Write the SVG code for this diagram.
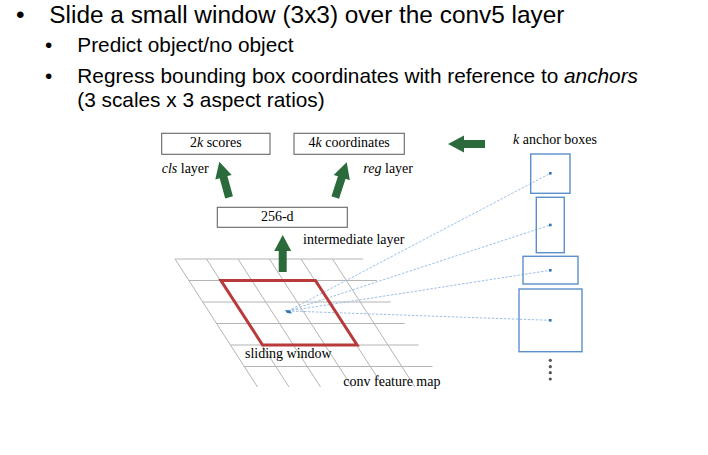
<svg xmlns="http://www.w3.org/2000/svg" xmlns:xlink="http://www.w3.org/1999/xlink" width="708" height="455" viewBox="0 0 708 455">
<style>
.h1{font-family:"Liberation Sans",Arial,sans-serif;font-size:24.4px;fill:#000}
.h2{font-family:"Liberation Sans",Arial,sans-serif;font-size:20.8px;fill:#000}
.t{font-family:"Liberation Serif","Times New Roman",serif;font-size:14px;fill:#000}
.box{fill:#fff;stroke:#666;stroke-width:1.1}
.grid{stroke:#b4b4b4;stroke-width:1;fill:none}
.anc{fill:none;stroke:#5b8fc9;stroke-width:1.4}
.dash{stroke:#9dc0e6;stroke-width:1;stroke-dasharray:2.5 1.5;fill:none}
.gar{fill:#2b6a3a}
.dot{fill:#2e75b6}
</style>
<defs>
<path id="arr" d="M0,0 L8.5,16 L4,16 L4,37 L-4,37 L-4,16 L-8.5,16 Z"/>
</defs>

<g id="bullets">
<text class="h1" x="16" y="22.7">•</text>
<text class="h1" x="49.3" y="22.7">Slide a small window (3x3) over the conv5 layer</text>
<text class="h2" x="45" y="52.3">•</text>
<text class="h2" x="77.3" y="52.3">Predict object/no object</text>
<text class="h2" x="45" y="82.7">•</text>
<text class="h2" x="77.3" y="82.7">Regress bounding box coordinates with reference to <tspan font-style="italic">anchors</tspan></text>
<text class="h2" x="77.3" y="106.7">(3 scales x 3 aspect ratios)</text>
</g>

<g id="grid">
<path class="grid" d="M175,259 H363 M188.9,280.5 H376.9 M202.8,302 H390.8 M216.7,323.5 H404.7 M230.6,345 H418.6 M244.5,366.5 H432.5"/>
<path class="grid" d="M175,259 L257.5,387 M206.5,259 L289,387 M238,259 L320.5,387 M269.5,259 L352,387 M301,259 L383.5,387 M332.5,259 L415,387"/>
</g>

<g id="connectors">
<path class="dash" d="M288,311 L550.3,173.3 M288,311 L550.3,225 M288,311 L550.3,270.3 M288,311 L550.3,320.3"/>
</g>

<g id="sliding-window">
<polygon points="220.9,280.5 315.4,280.5 357.1,345 262.6,345" fill="none" stroke="#b83a3a" stroke-width="3"/>
<polygon points="285,310 290,310.5 292,313.5 287,313" class="dot"/>
<text class="t" x="245" y="358.3">sliding window</text>
</g>

<g id="feature-map-label">
<text class="t" x="343.3" y="386">conv feature map</text>
</g>

<g id="scores">
<rect class="box" x="161.7" y="133.3" width="108.3" height="21"/>
<text class="t" x="215.8" y="147.3" text-anchor="middle">2<tspan font-style="italic">k</tspan> scores</text>
<text class="t" x="161.7" y="173.3"><tspan font-style="italic">cls</tspan> layer</text>
</g>

<g id="coordinates">
<rect class="box" x="294" y="133.3" width="110.3" height="21"/>
<text class="t" x="349.2" y="147.3" text-anchor="middle">4<tspan font-style="italic">k</tspan> coordinates</text>
<text class="t" x="413" y="173" text-anchor="end"><tspan font-style="italic">reg</tspan> layer</text>
</g>

<g id="intermediate">
<rect class="box" x="217.3" y="207.3" width="130" height="20"/>
<text class="t" x="277.3" y="221" text-anchor="middle">256-d</text>
<text class="t" x="303" y="244">intermediate layer</text>
</g>

<g id="green-arrows" class="gar">
<use xlink:href="#arr" transform="translate(282.7,235)"/>
<use xlink:href="#arr" transform="translate(219.3,161.7) rotate(-15.3)"/>
<use xlink:href="#arr" transform="translate(346.7,162.3) rotate(18)"/>
<use xlink:href="#arr" transform="translate(448,144) rotate(-90)"/>
</g>

<g id="anchor-boxes">
<text class="t" x="513" y="144"><tspan font-style="italic">k</tspan> anchor boxes</text>
<rect class="anc" x="530.7" y="154" width="39.3" height="39.3"/>
<rect class="dot" x="549" y="172" width="2.6" height="2.6"/>
<rect class="anc" x="536.3" y="197.3" width="28" height="55.4"/>
<rect class="dot" x="549" y="223.7" width="2.6" height="2.6"/>
<rect class="anc" x="523" y="256.3" width="55" height="27.7"/>
<rect class="dot" x="549" y="269" width="2.6" height="2.6"/>
<rect class="anc" x="519" y="289" width="63" height="62.7"/>
<rect class="dot" x="549" y="319" width="2.6" height="2.6"/>
<g fill="#555">
<circle cx="550.3" cy="360.3" r="1.6"/>
<circle cx="550.3" cy="366.7" r="1.6"/>
<circle cx="550.3" cy="372.7" r="1.6"/>
<circle cx="550.3" cy="379" r="1.6"/>
</g>
</g>
</svg>
